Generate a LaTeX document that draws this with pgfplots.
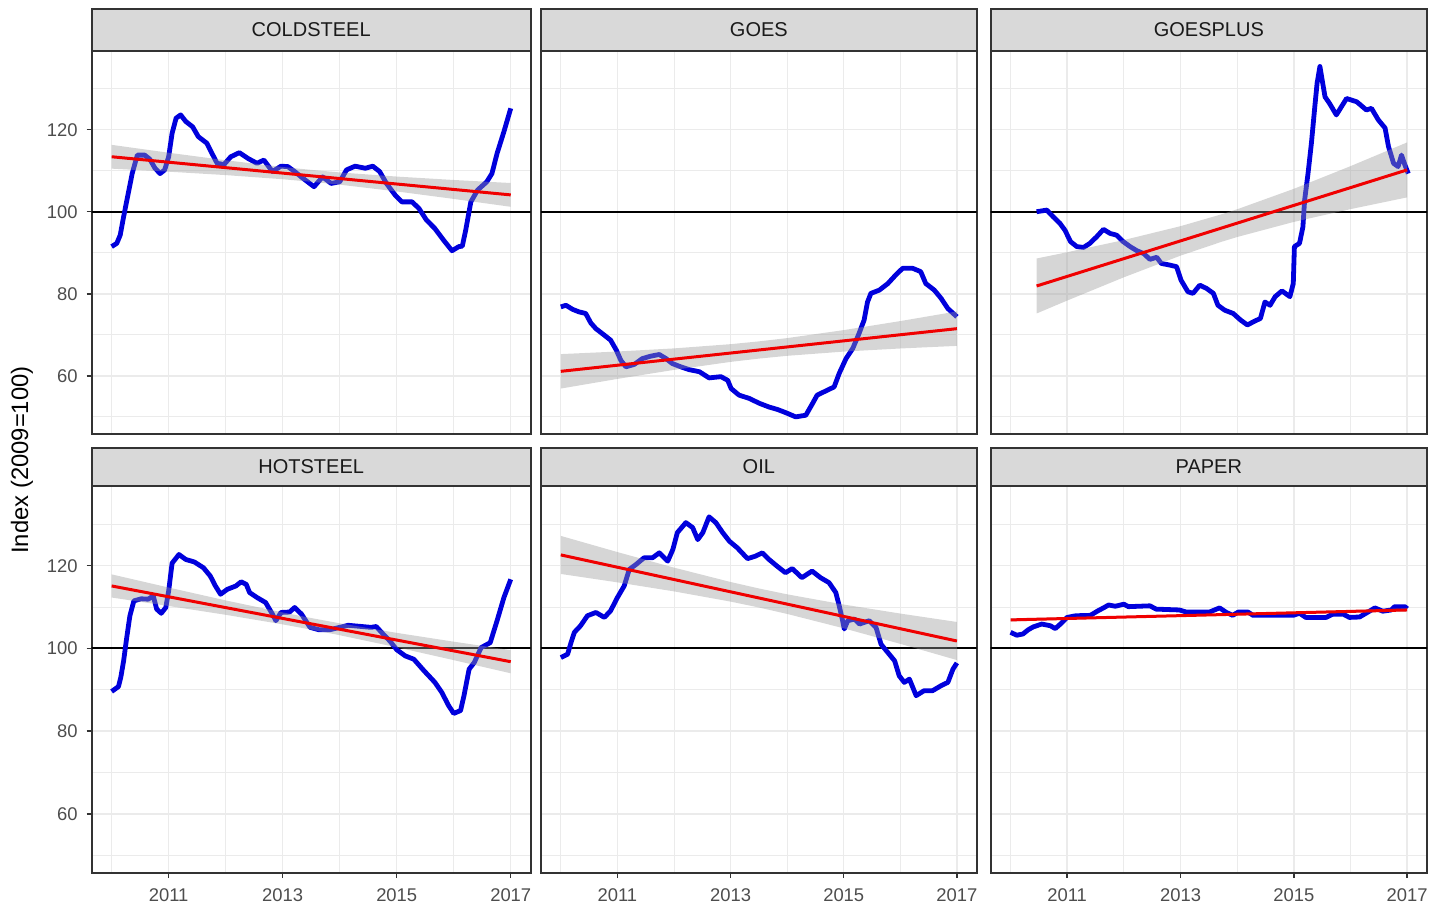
\documentclass[border=0pt]{standalone}
\usepackage{pgfplots}
\pgfplotsset{compat=1.18}
\usepackage{fontspec}
\setmainfont{Liberation Sans}
\definecolor{grey10}{HTML}{1A1A1A}
\definecolor{grey20}{HTML}{333333}
\definecolor{grey30}{HTML}{4D4D4D}
\definecolor{grey85}{HTML}{D9D9D9}
\definecolor{grey92}{HTML}{EBEBEB}
\definecolor{band}{HTML}{999999}
\definecolor{lineblue}{RGB}{0,0,220}
\definecolor{linered}{RGB}{240,0,0}
\pgfplotsset{
  every axis title shift=0pt,
  panel/.style={
    scale only axis, xmin=2009.65, xmax=2017.35, ymin=45.75, ymax=139.25,
    xtick={2011,2013,2015,2017}, xticklabels={2011,2013,2015,2017},
    minor xtick={2010,2012,2014,2016},
    ytick={60,80,100,120}, minor ytick={50,70,90,110,130},
    grid=both,
    major grid style={draw=grey92, line width=0.75pt},
    minor grid style={draw=grey92, line width=0.45pt},
    axis line style={draw=grey20, line width=1pt},
    tick align=outside, major tick length=2.5pt, minor tick length=0pt,
    tick style={draw=grey20, line width=0.75pt},
    tick pos=left,
    ticklabel style={font=\fontsize{9.2}{11}\selectfont, text=grey30},
    xticklabel style={yshift=-2pt},
    yticklabel style={xshift=-1pt},
    /pgf/number format/assume math mode=true,
    title style={at={(0.5,1)}, anchor=south, yshift=0pt, draw=grey20, line width=1pt,
      fill=grey85, inner sep=0pt, outer sep=0pt, font=\fontsize{10}{12}\selectfont, text=grey10},
    clip=true,
  },
  noy/.style={yticklabels={}, ytick style={draw=none}},
  nox/.style={xticklabels={}, xtick style={draw=none}},
  hl/.style={black, line width=1pt},
  bl/.style={lineblue, line width=2.4pt, line join=round},
  rb/.style={fill=band, fill opacity=0.4, draw=none},
  rl/.style={linered, line width=1.5pt},
}
\begin{document}
\begin{tikzpicture}
\path[use as bounding box] (0,0) rectangle (715.5pt,-454.5pt);
\node[rotate=90, font=\fontsize{11.9}{14}\selectfont] at (11pt,-230pt) {Index (2009=100)};

% ---------- COLDSTEEL ----------
\begin{axis}[panel, nox, at={(45.85pt,-25.35pt)}, anchor=north west,
  width=219.5pt, height=191.8pt, title={COLDSTEEL},
  title style={minimum width=219.5pt, minimum height=20.7pt}]
\addplot[hl] coordinates {(2009,100) (2018,100)};
\addplot[bl] coordinates {
(2010.0,91.5)(2010.09,92.3)(2010.15,94.3)(2010.21,98.8)(2010.28,103.7)(2010.36,109.3)
(2010.45,113.8)(2010.58,113.8)(2010.67,112.8)(2010.76,110.6)(2010.85,109.3)(2010.93,110.2)
(2011.0,113.4)(2011.06,119.1)(2011.13,122.8)(2011.21,123.6)(2011.30,122.0)(2011.42,120.7)
(2011.52,118.3)(2011.67,116.7)(2011.76,114.2)(2011.85,111.8)(2011.97,111.5)(2012.09,113.4)
(2012.24,114.4)(2012.39,113.0)(2012.55,111.8)(2012.67,112.6)(2012.82,109.8)(2012.97,111.1)
(2013.09,111.0)(2013.21,109.8)(2013.36,108.1)(2013.55,106.1)(2013.70,108.5)(2013.85,106.9)
(2014.0,107.3)(2014.12,110.2)(2014.27,111.1)(2014.45,110.6)(2014.58,111.1)(2014.70,109.8)
(2014.82,106.9)(2014.97,104.1)(2015.09,102.4)(2015.27,102.4)(2015.39,100.8)(2015.52,98.0)
(2015.67,95.9)(2015.82,93.1)(2015.97,90.5)(2016.09,91.5)(2016.15,91.6)(2016.21,95.5)
(2016.30,102.4)(2016.42,105.3)(2016.58,107.3)(2016.67,109.3)(2016.76,114.2)(2016.88,119.5)
(2017.0,125.2)};
\addplot[rb] coordinates {
(2010,116.3)(2011,114.38)(2012,112.55)(2013,110.90)(2013.5,110.20)(2014,109.58)(2015,108.57)(2016,107.74)(2017,107.0)
(2017,101.2)(2016,103.12)(2015,104.95)(2014,106.60)(2013.5,107.30)(2013,107.92)(2012,108.93)(2011,109.76)(2010,110.5)};
\addplot[rl] coordinates {(2010,113.4) (2017,104.1)};
\end{axis}

% ---------- GOES ----------
\begin{axis}[panel, nox, noy, at={(270.5pt,-25.35pt)}, anchor=north west,
  width=217.85pt, height=191.8pt, title={GOES},
  title style={minimum width=217.85pt, minimum height=20.7pt}]
\addplot[hl] coordinates {(2009,100) (2018,100)};
\addplot[bl] coordinates {
(2010.0,76.8)(2010.09,77.2)(2010.21,76.2)(2010.32,75.6)(2010.44,75.2)(2010.53,72.9)
(2010.62,71.5)(2010.77,69.9)(2010.88,68.7)(2010.98,66.3)(2011.06,63.8)(2011.15,62.2)
(2011.30,62.8)(2011.44,64.2)(2011.59,64.8)(2011.74,65.2)(2011.86,64.2)(2011.97,63.0)
(2012.12,62.2)(2012.27,61.5)(2012.45,61.0)(2012.62,59.5)(2012.83,59.8)(2012.95,58.9)
(2013.01,56.9)(2013.15,55.3)(2013.33,54.5)(2013.51,53.3)(2013.68,52.4)(2013.83,51.8)
(2013.98,51.0)(2014.15,50.0)(2014.33,50.4)(2014.45,53.3)(2014.53,55.3)(2014.71,56.5)
(2014.83,57.3)(2014.92,60.6)(2015.04,64.2)(2015.16,66.7)(2015.27,70.3)(2015.36,73.6)
(2015.42,78.0)(2015.48,80.1)(2015.63,80.9)(2015.78,82.5)(2015.92,84.6)(2016.04,86.2)
(2016.22,86.2)(2016.36,85.4)(2016.45,82.5)(2016.60,80.9)(2016.72,78.9)(2016.84,76.4)
(2017.0,74.4)};
\addplot[rb] coordinates {
(2010,65.3)(2011,65.93)(2012,66.69)(2013,67.72)(2013.5,68.40)(2014,69.20)(2015,71.15)(2016,73.35)(2017,75.7)
(2017,67.3)(2016,66.67)(2015,65.91)(2014,64.88)(2013.5,64.20)(2013,63.40)(2012,61.45)(2011,59.25)(2010,56.9)};
\addplot[rl] coordinates {(2010,61.1) (2017,71.5)};
\end{axis}

% ---------- GOESPLUS ----------
\begin{axis}[panel, nox, noy, at={(495.35pt,-25.35pt)}, anchor=north west,
  width=218.15pt, height=191.8pt, title={GOESPLUS},
  title style={minimum width=218.15pt, minimum height=20.7pt}]
\addplot[hl] coordinates {(2009,100) (2018,100)};
\addplot[bl] coordinates {
(2010.46,100.0)(2010.64,100.4)(2010.75,98.8)(2010.87,97.2)(2010.96,95.5)(2011.06,92.7)
(2011.17,91.5)(2011.29,91.3)(2011.40,92.3)(2011.52,93.9)(2011.64,95.7)(2011.76,94.7)
(2011.87,94.3)(2011.99,92.7)(2012.11,91.5)(2012.23,90.5)(2012.35,89.8)(2012.46,88.4)
(2012.58,88.9)(2012.66,87.4)(2012.81,87.0)(2012.93,86.6)(2013.01,83.3)(2013.13,80.5)
(2013.22,80.1)(2013.34,82.1)(2013.46,81.3)(2013.58,80.1)(2013.66,77.2)(2013.78,76.0)
(2013.93,75.2)(2014.06,73.6)(2014.18,72.4)(2014.29,73.2)(2014.41,74.0)(2014.49,78.0)
(2014.58,77.2)(2014.67,79.3)(2014.79,80.7)(2014.93,79.3)(2014.99,82.5)(2015.01,91.5)
(2015.10,92.3)(2015.16,96.3)(2015.19,102.8)(2015.25,109.3)(2015.31,116.7)(2015.37,125.6)
(2015.41,131.3)(2015.46,135.4)(2015.50,132.1)(2015.55,128.0)(2015.63,126.4)(2015.75,123.6)
(2015.84,125.6)(2015.93,127.6)(2016.11,126.8)(2016.28,124.8)(2016.37,125.2)(2016.49,122.4)
(2016.61,120.4)(2016.67,115.9)(2016.76,111.8)(2016.84,111.0)(2016.90,113.8)(2016.96,111.4)
(2017.02,109.3)};
\addplot[rb] coordinates {
(2010.46,88.6)(2011,90.13)(2012,93.10)(2013,96.48)(2013.73,99.40)(2014,100.60)(2015,105.58)(2016,111.11)(2017,116.9)
(2017,103.5)(2016,100.63)(2015,97.52)(2014,93.84)(2013.73,92.70)(2013,89.30)(2012,84.02)(2011,78.35)(2010.46,75.2)};
\addplot[rl] coordinates {(2010.46,81.9) (2017,110.2)};
\end{axis}

% ---------- HOTSTEEL ----------
\begin{axis}[panel, at={(45.85pt,-243pt)}, anchor=north west,
  width=219.5pt, height=193.5pt, title={HOTSTEEL},
  title style={minimum width=219.5pt, minimum height=19pt}]
\addplot[hl] coordinates {(2009,100) (2018,100)};
\addplot[bl] coordinates {
(2010.0,89.6)(2010.12,90.8)(2010.16,93.0)(2010.21,97.0)(2010.26,102.2)(2010.32,107.9)
(2010.39,111.5)(2010.52,112.0)(2010.64,111.9)(2010.73,112.7)(2010.79,109.5)(2010.87,108.5)
(2010.95,109.9)(2011.0,113.9)(2011.06,120.6)(2011.18,122.7)(2011.30,121.5)(2011.45,120.9)
(2011.61,119.5)(2011.73,117.5)(2011.82,115.1)(2011.91,113.1)(2012.03,114.3)(2012.18,115.1)
(2012.27,116.1)(2012.36,115.5)(2012.42,113.5)(2012.55,112.3)(2012.70,111.1)(2012.82,108.3)
(2012.88,106.7)(2012.97,108.7)(2013.12,108.8)(2013.21,109.9)(2013.33,108.3)(2013.48,105.1)
(2013.64,104.5)(2013.82,104.5)(2014.0,105.1)(2014.15,105.6)(2014.39,105.3)(2014.55,105.1)
(2014.64,105.3)(2014.76,103.5)(2014.88,101.8)(2015.0,99.7)(2015.15,98.2)(2015.30,97.4)
(2015.48,94.6)(2015.67,91.8)(2015.79,89.4)(2015.91,86.2)(2016.0,84.3)(2016.12,85.0)
(2016.18,88.6)(2016.27,95.0)(2016.36,96.6)(2016.48,100.2)(2016.64,101.4)(2016.76,106.7)
(2016.88,112.3)(2017.0,116.7)};
\addplot[rb] coordinates {
(2010,117.9)(2011,114.72)(2012,111.61)(2013,108.70)(2013.5,107.35)(2014,106.08)(2015,103.77)(2016,101.64)(2017,99.6)
(2017,94.0)(2016,97.18)(2015,100.29)(2014,103.20)(2013.5,104.55)(2013,105.82)(2012,108.13)(2011,110.26)(2010,112.3)};
\addplot[rl] coordinates {(2010,115.1) (2017,96.8)};
\end{axis}

% ---------- OIL ----------
\begin{axis}[panel, noy, at={(270.5pt,-243pt)}, anchor=north west,
  width=217.85pt, height=193.5pt, title={OIL},
  title style={minimum width=217.85pt, minimum height=19pt}]
\addplot[hl] coordinates {(2009,100) (2018,100)};
\addplot[bl] coordinates {
(2010.0,97.8)(2010.12,98.6)(2010.18,101.4)(2010.24,103.9)(2010.35,105.5)(2010.47,107.9)
(2010.62,108.7)(2010.77,107.5)(2010.88,109.1)(2011.0,112.3)(2011.12,115.1)(2011.21,119.1)
(2011.33,120.3)(2011.47,121.9)(2011.62,121.9)(2011.74,123.1)(2011.89,121.1)(2011.98,123.9)
(2012.06,128.0)(2012.21,130.4)(2012.33,129.2)(2012.42,126.3)(2012.51,128.0)(2012.62,131.8)
(2012.74,130.4)(2012.86,128.0)(2012.98,125.9)(2013.12,124.3)(2013.30,121.7)(2013.44,122.3)
(2013.56,123.1)(2013.68,121.5)(2013.82,119.9)(2013.97,118.3)(2014.09,119.3)(2014.26,117.1)
(2014.44,118.7)(2014.59,117.1)(2014.74,115.9)(2014.86,113.5)(2014.92,110.3)(2014.98,106.7)
(2015.01,104.7)(2015.07,106.7)(2015.19,107.1)(2015.28,105.9)(2015.45,106.7)(2015.57,105.1)
(2015.66,101.0)(2015.78,99.0)(2015.90,97.0)(2015.98,93.4)(2016.07,91.8)(2016.16,92.6)
(2016.28,88.6)(2016.42,89.8)(2016.57,89.8)(2016.72,91.0)(2016.84,91.8)(2016.93,95.0)
(2017.0,96.5)};
\addplot[rb] coordinates {
(2010,127.2)(2011,123.29)(2012,119.53)(2013,116.06)(2013.5,114.50)(2014,113.08)(2015,110.61)(2016,108.43)(2017,106.4)
(2017,97.2)(2016,101.11)(2015,104.87)(2014,108.34)(2013.5,109.90)(2013,111.32)(2012,113.79)(2011,115.97)(2010,118.0)};
\addplot[rl] coordinates {(2010,122.6) (2017,101.8)};
\end{axis}

% ---------- PAPER ----------
\begin{axis}[panel, noy, at={(495.35pt,-243pt)}, anchor=north west,
  width=218.15pt, height=193.5pt, title={PAPER},
  title style={minimum width=218.15pt, minimum height=19pt}]
\addplot[hl] coordinates {(2009,100) (2018,100)};
\addplot[bl] coordinates {
(2010.0,103.9)(2010.11,103.2)(2010.22,103.5)(2010.31,104.5)(2010.40,105.2)(2010.55,105.9)
(2010.70,105.5)(2010.79,104.8)(2010.88,105.9)(2011.0,107.5)(2011.15,107.9)(2011.41,108.0)
(2011.53,109.0)(2011.64,109.8)(2011.73,110.5)(2011.85,110.2)(2012.0,110.7)(2012.08,110.1)
(2012.46,110.3)(2012.57,109.5)(2012.98,109.3)(2013.10,108.8)(2013.51,108.8)(2013.69,109.8)
(2013.81,108.7)(2013.92,108.0)(2014.02,108.8)(2014.19,108.8)(2014.28,108.0)(2014.99,108.0)
(2015.10,108.5)(2015.21,107.5)(2015.57,107.5)(2015.69,108.3)(2015.87,108.3)(2015.98,107.5)
(2016.16,107.6)(2016.31,108.8)(2016.43,109.8)(2016.57,109.0)(2016.72,109.3)(2016.78,110.1)
(2016.96,110.1)(2017.0,109.6)};
\addplot[rb] coordinates {
(2010,107.3)(2011,107.56)(2012,107.84)(2013,108.14)(2013.5,108.3)(2014,108.48)(2015,108.86)(2016,109.28)(2017,109.7)
(2017,108.9)(2016,108.64)(2015,108.36)(2014,108.06)(2013.5,107.9)(2013,107.72)(2012,107.34)(2011,106.92)(2010,106.5)};
\addplot[rl] coordinates {(2010,106.9) (2017,109.3)};
\end{axis}
\end{tikzpicture}
\end{document}
